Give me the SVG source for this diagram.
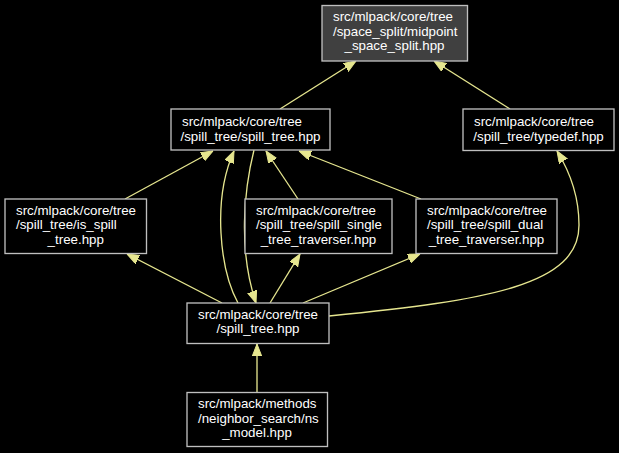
<svg xmlns="http://www.w3.org/2000/svg" width="619" height="453" viewBox="0 0 619 453">
<style>
.bg{fill:#000000}
.node rect{fill:#000000;stroke:#bfbfbf;stroke-width:1.33}
.node.root rect{fill:#404040}
.node text{font-family:"Liberation Sans",Arial,sans-serif;font-size:13.33px;fill:#ffffff}
.edge{fill:none;stroke:#e6e68f;stroke-width:1.33}
</style>
<defs>
<marker id="ah" markerUnits="userSpaceOnUse" markerWidth="12" markerHeight="10" refX="12" refY="4.67" orient="auto">
<path d="M0,0 L12,4.67 L0,9.33 z" fill="#e6e68f" stroke="#e6e68f" stroke-width="1"/>
</marker>
</defs>
<rect class="bg" x="0" y="0" width="619" height="453"/>
<g id="edges">
<path class="edge" marker-end="url(#ah)" d="M280,109 L356,61"/>
<path class="edge" marker-end="url(#ah)" d="M510,109 L434,61"/>
<path class="edge" marker-end="url(#ah)" d="M125,199 L213,151"/>
<path class="edge" marker-end="url(#ah)" d="M298,199 L266,151"/>
<path class="edge" marker-end="url(#ah)" d="M421,199 L299,151"/>
<path class="edge" marker-end="url(#ah)" d="M238,303 C220,270 212,200 234,151"/>
<path class="edge" marker-end="url(#ah)" d="M254,150 C244,190 238,250 256,303"/>
<path class="edge" marker-end="url(#ah)" d="M222,303 L127,254"/>
<path class="edge" marker-end="url(#ah)" d="M270,303 L300,254"/>
<path class="edge" marker-end="url(#ah)" d="M303,303 L420,254"/>
<path class="edge" marker-end="url(#ah)" d="M329,316 C490,300 579,285 579,225 C579,195 570,172 557,151"/>
<path class="edge" marker-end="url(#ah)" d="M257,392 L257,344"/>
</g>
<g id="node_midpoint" class="node root">
<rect x="322" y="5.5" width="145.5" height="55.5"/>
<text x="333" y="20.5">src/mlpack/core/tree</text>
<text x="333" y="35.5">/space_split/midpoint</text>
<text x="394.5" y="50" text-anchor="middle">_space_split.hpp</text>
</g>
<g id="node_spill_tree_inner" class="node">
<rect x="171" y="109" width="159" height="41"/>
<text x="182" y="126">src/mlpack/core/tree</text>
<text x="250.5" y="140.5" text-anchor="middle">/spill_tree/spill_tree.hpp</text>
</g>
<g id="node_typedef" class="node">
<rect x="463" y="109" width="151" height="41.5"/>
<text x="474" y="126">src/mlpack/core/tree</text>
<text x="538.5" y="140.5" text-anchor="middle">/spill_tree/typedef.hpp</text>
</g>
<g id="node_is_spill" class="node">
<rect x="5" y="199" width="141.5" height="54.5"/>
<text x="16" y="214.5">src/mlpack/core/tree</text>
<text x="16" y="229.2">/spill_tree/is_spill</text>
<text x="75.75" y="244" text-anchor="middle">_tree.hpp</text>
</g>
<g id="node_single" class="node">
<rect x="245" y="199" width="147" height="54.5"/>
<text x="256" y="214.5">src/mlpack/core/tree</text>
<text x="256" y="229.2">/spill_tree/spill_single</text>
<text x="318.5" y="244" text-anchor="middle">_tree_traverser.hpp</text>
</g>
<g id="node_dual" class="node">
<rect x="416" y="199" width="141" height="54.5"/>
<text x="427" y="214.5">src/mlpack/core/tree</text>
<text x="427" y="229.2">/spill_tree/spill_dual</text>
<text x="486.5" y="244" text-anchor="middle">_tree_traverser.hpp</text>
</g>
<g id="node_spill_tree" class="node">
<rect x="187" y="303" width="142" height="40.5"/>
<text x="198" y="318.5">src/mlpack/core/tree</text>
<text x="258" y="333" text-anchor="middle">/spill_tree.hpp</text>
</g>
<g id="node_ns_model" class="node">
<rect x="187" y="392.5" width="140.5" height="54"/>
<text x="198" y="408">src/mlpack/methods</text>
<text x="198" y="422.5">/neighbor_search/ns</text>
<text x="257" y="437" text-anchor="middle">_model.hpp</text>
</g>
</svg>
